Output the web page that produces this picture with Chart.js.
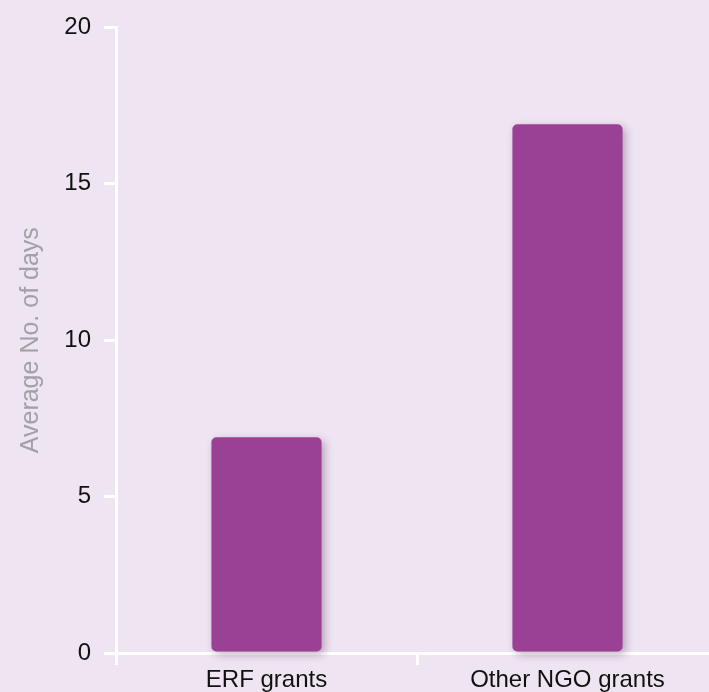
<!DOCTYPE html>
<html>
<head>
<meta charset="utf-8">
<script src="https://cdn.jsdelivr.net/npm/chart.js@4"></script>
<style>
  html, body { margin: 0; padding: 0; background: #efe4f1; overflow: hidden; }
  #wrap { width: 720px; height: 692px; }
</style>
</head>
<body>
<div id="wrap"><canvas id="daysChart" width="720" height="692"></canvas></div>
<script>
// grant types and average processing time
const categories = ["ERF grants", "Other NGO grants"];
const avgDays = [6.9, 16.9];
const yTicks = [0, 5, 10, 15, 20];

const barColor = "#9a4196";
const axisColor = "#ffffff";
const fontFamily = "Liberation Sans, Arial, sans-serif";

// soft drop shadow behind the bars
const barShadow = {
  id: "barShadow",
  beforeDatasetDraw(chart) {
    const ctx = chart.ctx;
    ctx.save();
    ctx.shadowColor = "rgba(50, 10, 50, 0.3)";
    ctx.shadowBlur = 8;
    ctx.shadowOffsetX = 3;
    ctx.shadowOffsetY = 3;
  },
  afterDatasetDraw(chart) {
    chart.ctx.restore();
  }
};

const ctx = document.getElementById("daysChart").getContext("2d");
new Chart(ctx, {
  type: "bar",
  data: {
    labels: categories,
    datasets: [{
      label: "Average No. of days",
      data: avgDays,
      backgroundColor: barColor,
      borderWidth: 0,
      borderRadius: 5,
      borderSkipped: false,
      barPercentage: 0.732,
      categoryPercentage: 0.5,
      clip: false
    }]
  },
  plugins: [barShadow],
  options: {
    responsive: false,
    animation: false,
    layout: { padding: { top: 25, right: 2, bottom: 0, left: 0 } },
    plugins: {
      legend: { display: false },
      tooltip: { enabled: false }
    },
    scales: {
      x: {
        z: 1,
        afterFit: s => { s.height = 39; },
        grid: {
          offset: true,
          drawOnChartArea: false,
          color: axisColor,
          lineWidth: 3,
          tickLength: 12
        },
        border: { color: axisColor, width: 3 },
        ticks: {
          color: "#111",
          padding: 1,
          font: { family: fontFamily, size: 24 }
        }
      },
      y: {
        min: 0,
        max: 20,
        afterFit: s => { s.width = 116; },
        afterBuildTicks: s => { s.ticks = yTicks.map(v => ({ value: v })); },
        grid: {
          drawOnChartArea: false,
          color: axisColor,
          lineWidth: 3,
          tickLength: 12
        },
        border: { color: axisColor, width: 3 },
        ticks: {
          color: "#111",
          padding: 13,
          font: { family: fontFamily, size: 24 }
        },
        title: {
          display: true,
          text: "Average No. of days",
          color: "#a3a0a6",
          padding: { top: 16, bottom: 0 },
          font: { family: fontFamily, size: 25 }
        }
      }
    }
  }
});
</script>
</body>
</html>
